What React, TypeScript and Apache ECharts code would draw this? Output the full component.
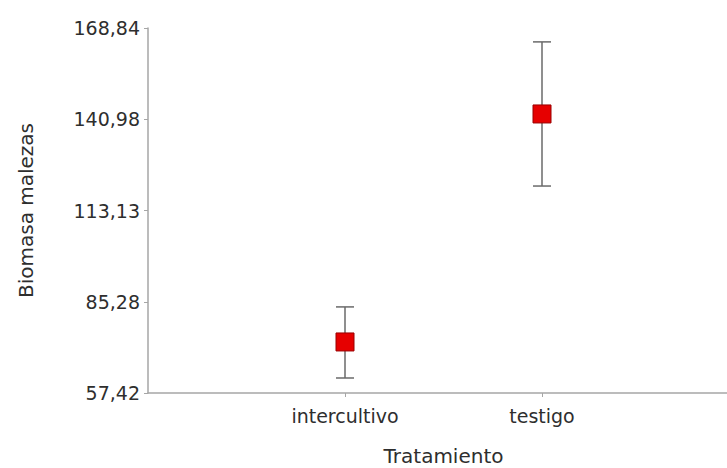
import React, { useEffect, useRef } from "react";
import * as echarts from "echarts";

const categories = ["intercultivo", "testigo"];
const means = [73.0, 142.6];
const lowerBounds = [62.0, 120.6];
const upperBounds = [83.7, 164.6];
const yTickValues = [57.42, 85.275, 113.13, 140.985, 168.84];
const yTickLabels = ["57,42", "85,28", "113,13", "140,98", "168,84"];

const FONT = "DejaVu Sans";

export default function App() {
  const ref = useRef<HTMLDivElement>(null);

  useEffect(() => {
    if (!ref.current) return;
    const chart = echarts.init(ref.current, null, { renderer: "svg" });

    const xPositions = categories.map((_, i) => i + 1);
    const pointData = categories.map((_, i) => [xPositions[i], means[i]]);
    const barData = categories.map((_, i) => [xPositions[i], lowerBounds[i], upperBounds[i]]);

    const option: any = {
      animation: false,
      backgroundColor: "#ffffff",
      grid: {
        left: 148,
        top: 28,
        bottom: 75,
        width: 591,
        containLabel: false,
        outerBoundsMode: "none",
      },
      xAxis: {
        type: "value",
        min: 0,
        max: categories.length + 1,
        name: "Tratamiento",
        nameLocation: "middle",
        nameGap: 53,
        nameTextStyle: { fontFamily: FONT, fontSize: 20, color: "#2e2e2e", lineHeight: 20 },
        splitLine: { show: false },
        axisLine: { show: true, lineStyle: { color: "#a6a6a6", width: 1.5 } },
        axisTick: { show: true, length: 4, customValues: xPositions, lineStyle: { color: "#a6a6a6" } },
        axisLabel: {
          customValues: xPositions,
          margin: 13,
          fontFamily: FONT,
          fontSize: 19,
          color: "#2e2e2e",
          formatter: (v: number) => categories[Math.round(v) - 1] ?? "",
        },
      },
      yAxis: {
        type: "value",
        min: yTickValues[0],
        max: yTickValues[yTickValues.length - 1],
        name: "Biomasa malezas",
        nameLocation: "middle",
        nameGap: 112,
        nameTextStyle: { fontFamily: FONT, fontSize: 20, color: "#2e2e2e" },
        splitLine: { show: false },
        axisLine: { show: true, lineStyle: { color: "#a6a6a6", width: 1.5 } },
        axisTick: { show: true, length: 4, customValues: yTickValues, lineStyle: { color: "#a6a6a6" } },
        axisLabel: {
          customValues: yTickValues,
          margin: 8,
          fontFamily: FONT,
          fontSize: 19,
          color: "#2e2e2e",
          formatter: (v: number) => {
            let best = 0;
            yTickValues.forEach((t, i) => {
              if (Math.abs(t - v) < Math.abs(yTickValues[best] - v)) best = i;
            });
            return yTickLabels[best];
          },
        },
      },
      series: [
        {
          type: "custom",
          z: 1,
          data: barData,
          renderItem: (params: any, api: any) => {
            const x = api.value(0);
            const lo = api.coord([x, api.value(1)]);
            const hi = api.coord([x, api.value(2)]);
            const hw = 9;
            const style = { stroke: "#6a6a6a", lineWidth: 1.5 };
            return {
              type: "group",
              children: [
                { type: "line", shape: { x1: lo[0], y1: lo[1], x2: hi[0], y2: hi[1] }, style },
                { type: "line", shape: { x1: lo[0] - hw, y1: lo[1], x2: lo[0] + hw, y2: lo[1] }, style },
                { type: "line", shape: { x1: hi[0] - hw, y1: hi[1], x2: hi[0] + hw, y2: hi[1] }, style },
              ],
            };
          },
        },
        {
          type: "scatter",
          z: 3,
          symbol: "rect",
          symbolSize: 18,
          data: pointData,
          itemStyle: { color: "#e60000", borderColor: "#9a0000", borderWidth: 1, opacity: 1 },
        },
      ],
    };

    chart.setOption(option);
    return () => chart.dispose();
  }, []);

  return (
    <div
      ref={ref}
      style={{ position: "absolute", left: 0, top: 0, width: 727, height: 468, background: "#fff" }}
    />
  );
}
